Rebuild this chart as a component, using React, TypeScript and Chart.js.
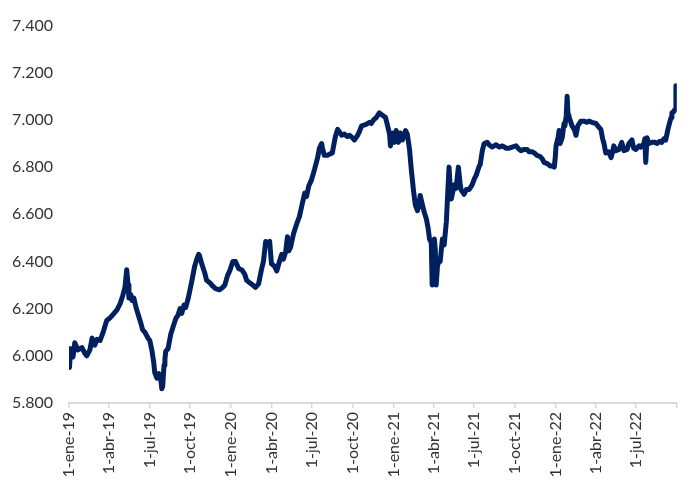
import { useEffect, useRef } from 'react';
import { Chart, registerables } from 'chart.js';

Chart.register(...registerables);

// days counted from 1-ene-19
const dayOffsets = [
    0, 1, 4, 9, 13, 20, 29, 36, 40, 47, 52, 58, 63, 70, 76, 85, 92, 99, 108, 115,
    121, 126, 130, 133, 135, 139, 142, 146, 151, 160, 166, 171, 178, 182, 187, 191, 193, 198, 202, 207,
    209, 211, 214, 216, 218, 223, 229, 234, 241, 245, 250, 254, 259, 263, 268, 272, 277, 283, 288, 292,
    294, 299, 306, 310, 317, 324, 330, 339, 346, 351, 357, 362, 369, 375, 382, 389, 396, 400, 407, 414,
    420, 427, 434, 438, 443, 447, 452, 456, 463, 468, 474, 479, 483, 488, 492, 495, 499, 506, 513, 519,
    526, 531, 535, 540, 546, 553, 560, 564, 569, 571, 575, 582, 587, 593, 600, 605, 609, 614, 620, 627,
    632, 638, 643, 650, 654, 659, 668, 677, 681, 686, 692, 699, 706, 713, 717, 722, 724, 728, 733, 737,
    742, 746, 751, 758, 762, 767, 771, 776, 780, 785, 789, 791, 796, 800, 805, 809, 812, 816, 818, 821,
    823, 825, 827, 830, 834, 836, 841, 845, 850, 852, 856, 859, 861, 868, 872, 877, 881, 883, 890, 895,
    901, 908, 913, 917, 924, 926, 931, 935, 942, 946, 953, 962, 969, 976, 985, 991, 998, 1007, 1014, 1018,
    1025, 1032, 1036, 1043, 1048, 1054, 1061, 1066, 1070, 1077, 1084, 1088, 1093, 1095, 1097, 1102, 1104, 1106, 1111, 1115,
    1117, 1120, 1122, 1124, 1126, 1133, 1138, 1142, 1146, 1153, 1160, 1166, 1171, 1178, 1187, 1193, 1198, 1202, 1205, 1209,
    1216, 1221, 1225, 1227, 1232, 1239, 1245, 1250, 1257, 1261, 1268, 1272, 1277, 1284, 1288, 1295, 1297, 1299, 1302, 1306,
    1313, 1320, 1324, 1331, 1335, 1340, 1344, 1349, 1351, 1356, 1358, 1362, 1365, 1367,
];

const values = [
    6030, 5950, 6030, 5995, 6055, 6025, 6035, 6010, 6000, 6025, 6075, 6045, 6070, 6065, 6095, 6150, 6160, 6175, 6195, 6220,
    6255, 6290, 6365, 6300, 6245, 6260, 6235, 6245, 6205, 6150, 6110, 6100, 6075, 6065, 6020, 5970, 5930, 5905, 5925, 5895,
    5860, 5870, 5960, 5985, 6020, 6030, 6090, 6120, 6160, 6170, 6200, 6180, 6215, 6205, 6240, 6275, 6320, 6380, 6410, 6430,
    6425, 6390, 6350, 6320, 6310, 6295, 6285, 6280, 6290, 6300, 6340, 6360, 6400, 6400, 6370, 6365, 6345, 6320, 6310, 6300,
    6290, 6305, 6370, 6400, 6485, 6480, 6485, 6390, 6380, 6360, 6400, 6430, 6410, 6440, 6505, 6445, 6460, 6520, 6560, 6590,
    6650, 6690, 6675, 6720, 6745, 6790, 6840, 6880, 6900, 6880, 6850, 6850, 6855, 6860, 6930, 6960, 6950, 6935, 6940, 6930,
    6935, 6925, 6915, 6935, 6950, 6975, 6980, 6990, 6985, 7000, 7010, 7030, 7020, 7010, 6980, 6940, 6890, 6945, 6905, 6955,
    6905, 6945, 6915, 6955, 6940, 6875, 6790, 6700, 6640, 6615, 6650, 6680, 6640, 6610, 6580, 6540, 6495, 6480, 6300, 6420,
    6495, 6450, 6300, 6380, 6410, 6400, 6495, 6470, 6570, 6650, 6800, 6700, 6665, 6725, 6710, 6800, 6730, 6705, 6685, 6705,
    6705, 6725, 6750, 6765, 6805, 6810, 6870, 6900, 6905, 6895, 6885, 6895, 6885, 6890, 6880, 6880, 6885, 6890, 6875, 6870,
    6875, 6875, 6865, 6865, 6860, 6850, 6845, 6835, 6820, 6815, 6805, 6805, 6800, 6835, 6890, 6930, 6955, 6900, 6925, 6985,
    6975, 7020, 7100, 7020, 7015, 6975, 6960, 6935, 6975, 6995, 6995, 6990, 6995, 6990, 6985, 6970, 6960, 6920, 6900, 6860,
    6865, 6840, 6870, 6890, 6870, 6875, 6905, 6870, 6875, 6900, 6915, 6880, 6875, 6890, 6885, 6900, 6920, 6820, 6925, 6900,
    6905, 6905, 6900, 6910, 6905, 6920, 6915, 6960, 6975, 7010, 7030, 7035, 7045, 7145,
];

// quarter starts, last one closes the axis without a label
const tickDays = [0, 90, 181, 273, 365, 456, 547, 639, 731, 821, 912, 1004, 1096, 1186, 1277, 1369];
const tickLabels = [
    '1-ene-19', '1-abr-19', '1-jul-19', '1-oct-19', '1-ene-20', '1-abr-20', '1-jul-20', '1-oct-20',
    '1-ene-21', '1-abr-21', '1-jul-21', '1-oct-21', '1-ene-22', '1-abr-22', '1-jul-22', '',
];

const yMin = 5800;
const yMax = 7400;
const yStep = 200;

const fmt = (v: number) => {
    const n = Math.round(v);
    const thousands = Math.floor(n / 1000);
    const rest = String(n % 1000).padStart(3, '0');
    return thousands + '.' + rest;
};

export default function App() {
    const canvasRef = useRef<HTMLCanvasElement>(null);

    useEffect(() => {
        document.body.style.margin = '0';
        const font = { family: 'Lato, "Liberation Sans", sans-serif', size: 16 };
        const chart = new Chart(canvasRef.current!, {
            type: 'line',
            data: {
                datasets: [
                    {
                        data: dayOffsets.map((d, i) => ({ x: d, y: values[i] })),
                        borderColor: '#002060',
                        backgroundColor: '#002060',
                        borderWidth: 5,
                        borderJoinStyle: 'round',
                        borderCapStyle: 'round',
                        pointRadius: 0,
                        tension: 0,
                    },
                ],
            },
            options: {
                animation: false,
                responsive: true,
                maintainAspectRatio: false,
                layout: { padding: { top: 20, right: 22, left: 0, bottom: 0 } },
                plugins: { legend: { display: false }, tooltip: { enabled: false } },
                scales: {
                    x: {
                        type: 'linear',
                        min: 0,
                        max: 1369,
                        afterBuildTicks: (scale: any) => {
                            scale.ticks = tickDays.map((v) => ({ value: v }));
                        },
                        afterFit: (scale: any) => {
                            scale.height = 87;
                        },
                        grid: {
                            display: true,
                            drawOnChartArea: false,
                            drawTicks: true,
                            tickLength: 5,
                            color: '#d9d9d9',
                            lineWidth: 1.5,
                        },
                        border: { display: true, color: '#d9d9d9', width: 2 },
                        ticks: {
                            autoSkip: false,
                            maxRotation: 90,
                            minRotation: 90,
                            padding: 4,
                            color: '#333333',
                            font,
                            callback: (_v: any, i: number) => tickLabels[i],
                        },
                    },
                    y: {
                        min: yMin,
                        max: yMax,
                        afterFit: (scale: any) => {
                            scale.width = 69;
                        },
                        grid: { display: false, drawTicks: false },
                        border: { display: false },
                        ticks: {
                            stepSize: yStep,
                            padding: 16,
                            color: '#333333',
                            font,
                            callback: (v: any) => fmt(Number(v)),
                        },
                    },
                },
            },
        });
        return () => chart.destroy();
    }, []);

    return (
        <div style={{ width: '700px', height: '490px', position: 'relative', background: '#fff' }}>
            <canvas ref={canvasRef} />
        </div>
    );
}
